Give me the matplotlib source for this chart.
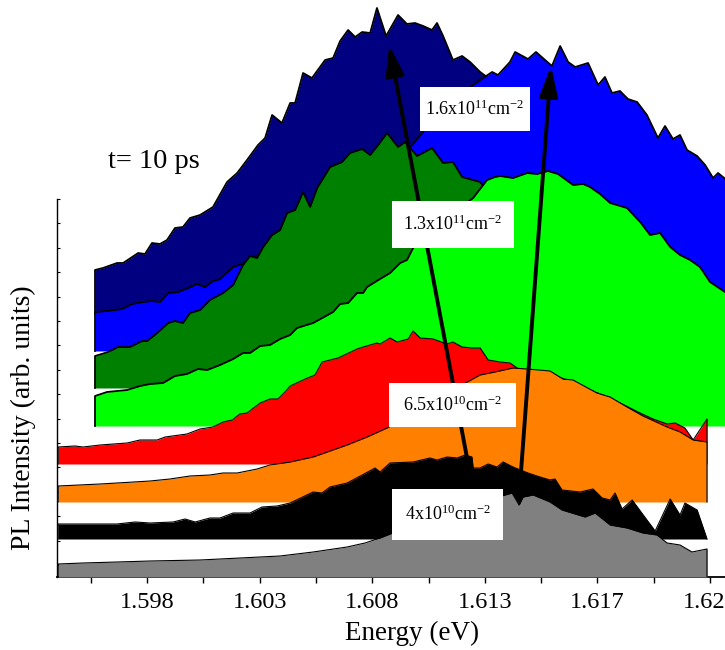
import numpy as np
import matplotlib.pyplot as plt
from matplotlib.patches import Rectangle

plt.rcParams['font.family'] = 'Liberation Serif'
plt.rcParams['mathtext.fontset'] = 'custom'
plt.rcParams['mathtext.rm'] = 'Liberation Serif'
plt.rcParams['mathtext.it'] = 'Liberation Serif:italic'

# PL spectra at t = 10 ps: energy (eV) and intensity above each trace's own baseline (arb. units)
gray_e = [1.59421, 1.59527, 1.59672, 1.59813, 1.60026, 1.60196, 1.60367, 1.60508, 1.60653, 1.60729,
          1.60793, 1.60879, 1.60964, 1.61049, 1.61134, 1.61220, 1.61296, 1.61356, 1.61386, 1.61403,
          1.61446, 1.61518, 1.61569, 1.61667, 1.61710, 1.61774, 1.61846, 1.61914, 1.61974, 1.62017,
          1.62072, 1.62123, 1.62187]
gray_i = [13, 14, 15, 16, 17, 19, 21, 25, 30, 34, 39, 47, 55, 62, 69, 75, 80, 84, 72, 80,
          82, 75, 67, 60, 64, 52, 49, 44, 42, 34, 32, 25, 28]

black_e = [1.59421, 1.59527, 1.59672, 1.59749, 1.59813, 1.59911, 1.59962, 1.60005, 1.60068, 1.60111,
           1.60167, 1.60239, 1.60290, 1.60354, 1.60410, 1.60508, 1.60546, 1.60580, 1.60653, 1.60717,
           1.60772, 1.60793, 1.60836, 1.60934, 1.61006, 1.61036, 1.61079, 1.61122, 1.61156, 1.61185,
           1.61190, 1.61220, 1.61254, 1.61292, 1.61318, 1.61360, 1.61424, 1.61475, 1.61518, 1.61539,
           1.61569, 1.61646, 1.61701, 1.61740, 1.61774, 1.61795, 1.61825, 1.61868, 1.61931, 1.61966,
           1.62030, 1.62072, 1.62093, 1.62145, 1.62187]
black_i = [15, 15, 15, 17, 16, 17, 20, 17, 21, 21, 26, 26, 32, 33, 36, 47, 46, 52, 56, 64,
           71, 67, 76, 77, 81, 79, 82, 81, 84, 82, 71, 71, 75, 72, 77, 72, 66, 62, 59, 60,
           49, 47, 50, 41, 39, 46, 30, 39, 19, 8, 40, 24, 36, 29, 0]

orange_e = [1.59421, 1.59600, 1.59672, 1.59813, 1.59898, 1.59983, 1.60068, 1.60124, 1.60184, 1.60269,
            1.60324, 1.60410, 1.60508, 1.60653, 1.60738, 1.60823, 1.60879, 1.60964, 1.61049, 1.61134,
            1.61220, 1.61283, 1.61360, 1.61420, 1.61518, 1.61573, 1.61616, 1.61718, 1.61774, 1.61846,
            1.61914, 1.62017, 1.62072, 1.62128, 1.62187]
orange_i = [16, 18, 19, 21, 23, 26, 27, 29, 29, 33, 37, 40, 45, 57, 65, 74, 81, 94, 106, 116,
            127, 130, 134, 133, 131, 123, 122, 109, 105, 95, 86, 75, 70, 62, 60]

red_e = [1.59421, 1.59493, 1.59527, 1.59600, 1.59715, 1.59770, 1.59843, 1.59877, 1.59970, 1.60026,
         1.60081, 1.60124, 1.60163, 1.60196, 1.60226, 1.60282, 1.60324, 1.60358, 1.60388, 1.60410,
         1.60474, 1.60516, 1.60546, 1.60614, 1.60695, 1.60721, 1.60780, 1.60793, 1.60836, 1.60866,
         1.60913, 1.60934, 1.60964, 1.61019, 1.61079, 1.61104, 1.61143, 1.61185, 1.61220, 1.61254,
         1.61305, 1.61347, 1.61390, 1.61518, 1.61646, 1.61774, 1.61902, 1.61957, 1.62017, 1.62051,
         1.62093, 1.62128, 1.62187]
red_i = [17, 18, 17, 19, 21, 24, 24, 27, 30, 35, 37, 42, 44, 50, 51, 61, 65, 65, 72, 78,
         85, 89, 102, 106, 115, 117, 121, 120, 126, 122, 125, 133, 126, 125, 120, 122, 117, 116, 116, 104,
         102, 101, 94, 91, 78, 66, 51, 45, 40, 41, 36, 24, 45]

lgreen_e = [1.59578, 1.59629, 1.59715, 1.59770, 1.59813, 1.59868, 1.59919, 1.59970, 1.60017, 1.60056,
            1.60111, 1.60167, 1.60209, 1.60239, 1.60282, 1.60324, 1.60367, 1.60410, 1.60439, 1.60508,
            1.60593, 1.60623, 1.60657, 1.60695, 1.60721, 1.60738, 1.60793, 1.60836, 1.60879, 1.60908,
            1.60934, 1.61006, 1.61092, 1.61190, 1.61249, 1.61283, 1.61305, 1.61360, 1.61420, 1.61463,
            1.61509, 1.61552, 1.61616, 1.61659, 1.61688, 1.61731, 1.61774, 1.61846, 1.61902, 1.61944,
            1.61987, 1.62030, 1.62072, 1.62115, 1.62157, 1.62200, 1.62251, 1.62328]
lgreen_i = [30, 34, 36, 40, 42, 43, 50, 52, 57, 56, 61, 67, 73, 73, 80, 81, 87, 91, 98, 103,
            114, 122, 123, 133, 133, 139, 147, 153, 163, 166, 178, 194, 211, 228, 246, 249, 250, 248, 253, 252,
            255, 252, 241, 242, 239, 232, 223, 218, 204, 191, 193, 179, 171, 166, 159, 144, 136, 124]

dgreen_e = [1.59578, 1.59634, 1.59676, 1.59727, 1.59779, 1.59800, 1.59843, 1.59890, 1.59919, 1.59953,
            1.59983, 1.60026, 1.60068, 1.60124, 1.60167, 1.60209, 1.60239, 1.60269, 1.60295, 1.60333,
            1.60367, 1.60397, 1.60431, 1.60465, 1.60495, 1.60525, 1.60580, 1.60631, 1.60665, 1.60717,
            1.60751, 1.60785, 1.60823, 1.60870, 1.60900, 1.60951, 1.61015, 1.61062, 1.61104, 1.61143,
            1.61220, 1.61262, 1.61390, 1.61561, 1.61731, 1.61944, 1.62157, 1.62328]
dgreen_i = [32, 36, 41, 41, 47, 47, 55, 65, 67, 65, 75, 78, 88, 95, 103, 123, 132, 130, 141, 153,
            158, 175, 178, 196, 181, 200, 221, 226, 235, 239, 233, 243, 255, 241, 246, 232, 240, 225, 226, 211,
            206, 193, 188, 173, 148, 118, 88, 68]

blue_e = [1.59578, 1.59629, 1.59693, 1.59736, 1.59783, 1.59821, 1.59855, 1.59890, 1.59932, 1.59975,
          1.60013, 1.60047, 1.60081, 1.60111, 1.60167, 1.60205, 1.60239, 1.60324, 1.60452, 1.60580,
          1.60708, 1.60836, 1.60900, 1.60930, 1.60994, 1.61049, 1.61113, 1.61185, 1.61220, 1.61271,
          1.61296, 1.61347, 1.61369, 1.61424, 1.61458, 1.61526, 1.61561, 1.61595, 1.61625, 1.61680,
          1.61723, 1.61752, 1.61782, 1.61816, 1.61850, 1.61889, 1.61931, 1.61978, 1.62008, 1.62042,
          1.62072, 1.62102, 1.62145, 1.62179, 1.62213, 1.62234, 1.62255, 1.62328]
blue_i = [39, 40, 42, 47, 49, 50, 49, 58, 59, 63, 67, 64, 70, 72, 84, 87, 91, 103, 123, 146,
          171, 191, 199, 206, 224, 236, 251, 265, 271, 279, 276, 289, 299, 292, 299, 285, 305, 289, 284, 288,
          266, 274, 258, 260, 252, 249, 236, 213, 225, 212, 216, 201, 195, 186, 173, 178, 174, 161]

navy_e = [1.59578, 1.59612, 1.59672, 1.59698, 1.59762, 1.59791, 1.59821, 1.59855, 1.59885, 1.59919,
          1.59953, 1.59983, 1.60026, 1.60081, 1.60141, 1.60184, 1.60226, 1.60273, 1.60303, 1.60333,
          1.60375, 1.60410, 1.60431, 1.60465, 1.60503, 1.60559, 1.60593, 1.60623, 1.60657, 1.60687,
          1.60717, 1.60751, 1.60780, 1.60819, 1.60870, 1.60908, 1.60942, 1.60977, 1.61015, 1.61036,
          1.61062, 1.61104, 1.61143, 1.61177, 1.61220, 1.61249, 1.61305, 1.61518, 1.61731, 1.61944,
          1.62157, 1.62328]
navy_i = [43, 45, 50, 50, 60, 59, 70, 69, 73, 85, 86, 95, 98, 106, 131, 140, 153, 168, 175, 198,
          190, 210, 210, 240, 235, 253, 255, 272, 283, 276, 281, 280, 305, 277, 298, 289, 290, 287, 283, 290,
          277, 253, 257, 251, 241, 236, 223, 198, 173, 143, 113, 93]

# drawn from the top trace down, so lower traces cover upper ones
series = [
    (navy_e, navy_i, 264, '#000080', 1.3),
    (blue_e, blue_i, 226, '#0000ff', 1.3),
    (dgreen_e, dgreen_i, 189, '#008000', 1.3),
    (lgreen_e, lgreen_i, 151, '#00ff00', 1.3),
    (red_e, red_i, 113, '#ff0000', 0.8),
    (orange_e, orange_i, 75, '#ff8000', 0.8),
    (black_e, black_i, 38, '#000000', 0.8),
    (gray_e, gray_i, 0, '#808080', 0.8),
]

tick_pos = np.linspace(1.598, 1.622, 6)
tick_lab = ['1.598', '1.603', '1.608', '1.613', '1.617', '1.622']

labels = [
    (r'1.6x10$^{11}$cm$^{-2}$', 1.61198, 468, 110, 44),
    (r'1.3x10$^{11}$cm$^{-2}$', 1.61104, 353, 122, 47),
    (r'6.5x10$^{10}$cm$^{-2}$', 1.61102, 172, 127, 44),
    (r'4x10$^{10}$cm$^{-2}$', 1.61082, 63, 111, 51),
]
ev_per_px = 1 / 23458.0

fig = plt.figure(figsize=(7.25, 6.5), dpi=100)
ax = fig.add_axes([57 / 725, 73 / 650, 688 / 725, 577 / 650])

for k, (e, i, off, c, lw) in enumerate(series):
    e = np.array(e)
    top = off + np.array(i, dtype=float)
    ax.fill_between(e, off, top, color=c, lw=0, zorder=1 + k)
    ax.plot(np.r_[e[0], e, e[-1]], np.r_[off, top, off], color='k', lw=lw, zorder=1.5 + k)

# arrows
ax.annotate('', xy=(1.60832, 532), xytext=(1.61164, 119),
            arrowprops=dict(arrowstyle='-|>,head_length=0.9,head_width=0.27', mutation_scale=20,
                            lw=2.8, color='k', shrinkA=0, shrinkB=0), zorder=20)
ax.annotate('', xy=(1.61522, 511), xytext=(1.61394, 105),
            arrowprops=dict(arrowstyle='-|>,head_length=0.9,head_width=0.27', mutation_scale=20,
                            lw=2.8, color='k', shrinkA=0, shrinkB=0), zorder=20)

for txt, xe, yc, wpx, hpx in labels:
    w = wpx * ev_per_px
    ax.add_patch(Rectangle((xe - w / 2, yc - hpx / 2), w, hpx, fc='white', ec='none', zorder=30))
    ax.text(xe, yc, txt, ha='center', va='center', fontsize=13, zorder=31)

ax.text(1.59634, 415, 't= 10 ps', fontsize=20.5, ha='left', va='center')

ax.set_xlim(1.59416, 1.62349)
ax.set_ylim(0, 577)

ax.set_xticks(tick_pos)
ax.set_xticklabels(tick_lab, fontsize=17.5)
ax.set_xticks([1.5956, 1.6004, 1.6052, 1.6100, 1.6148, 1.6196], minor=True)
ax.tick_params(axis='x', which='both', direction='out', length=4.5, width=1, pad=6)
ax.set_yticks(12 + 24.4 * np.arange(16))
ax.set_yticklabels([])
ax.tick_params(axis='y', direction='in', length=2.5, width=0.8)

for s in ['top', 'right']:
    ax.spines[s].set_visible(False)
ax.spines['left'].set_bounds(0, 378)
ax.spines['left'].set_linewidth(1.0)
ax.spines['bottom'].set_linewidth(1.3)

ax.set_xlabel('Energy (eV)', fontsize=19.5)
ax.xaxis.set_label_coords((412 - 57) / 688, -0.097)
ax.xaxis.label.set_va('center')
ax.set_ylabel('PL Intensity (arb. units)', fontsize=20)
ax.yaxis.set_label_coords((23 - 57) / 688, (577 - 418) / 577)
ax.yaxis.label.set_va('center')

fig.savefig('out.png', dpi=100)
